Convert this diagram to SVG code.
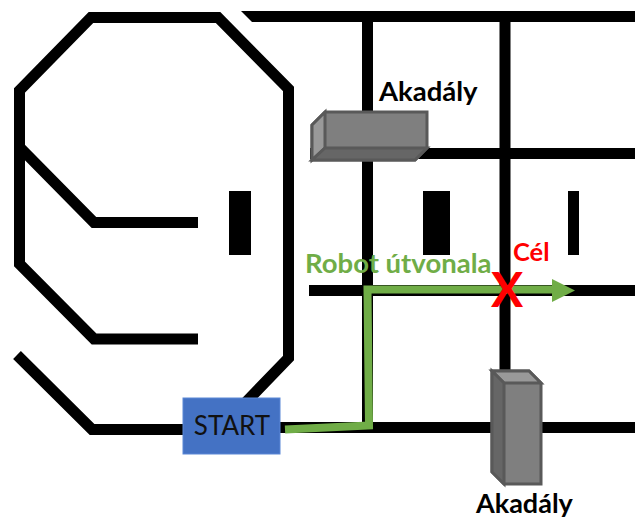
<svg xmlns="http://www.w3.org/2000/svg" width="635" height="519" viewBox="0 0 635 519">
<style>
.t{fill:none;stroke:#000;stroke-width:11}
.b{fill:#000}
.o{stroke:#595959;stroke-width:3;stroke-linejoin:miter}
.l{font-family:Lato,"Liberation Sans",Arial,sans-serif;font-weight:700}
</style>
<rect width="635" height="519" fill="#fff"/>
<g id="track">
<path class="t" d="M19.500 212V90.500L91 17.500H218L288.500 89V358L246 402"/>
<path class="t" d="M19.500 147L94 222.500H198"/>
<path class="t" d="M19.500 212V264L94 339H198"/>
<path class="t" d="M17 355L92 429.500H185"/>
<path class="b" d="M241 11H635V22H252Z"/>
<path class="t" d="M367.500 22V428"/>
<path class="t" d="M505 22V375"/>
<path class="t" d="M310 153.500H635"/>
<path class="t" d="M309 290.500H635"/>
<path class="t" d="M280 427.500H635"/>
<rect class="b" x="229" y="191" width="22" height="64"/>
<rect class="b" x="423" y="191" width="27" height="64"/>
<rect class="b" x="568" y="191" width="11" height="64"/>
</g>
<g id="connectors">
<path d="M285 429.500L369 425.500L367.500 289.500H552" fill="none" stroke="#70ad47" stroke-width="8"/>
<path d="M552 279L575 290.500L552 302Z" fill="#70ad47"/>
</g>
<g id="obstacle-top">
<path class="o" d="M312 125L325 112H427V148L415 160H312Z" fill="#7f7f7f"/>
<path class="o" d="M312 125L325 112V148L312 160Z" fill="#999"/>
<path class="o" d="M325 148H427L415 160H312Z" fill="#666"/>
<text class="l" x="379" y="101" font-size="27.500">Akadály</text>
</g>
<g id="obstacle-bottom">
<path class="o" d="M492 371H529L541 383V484H504L492 472Z" fill="#7f7f7f"/>
<path class="o" d="M492 371H529L541 383H504Z" fill="#999"/>
<path class="o" d="M492 371L504 383V484L492 472Z" fill="#666"/>
<text class="l" x="476" y="513" font-size="27">Akadály</text>
</g>
<g id="start">
<rect x="183" y="398" width="97" height="56" fill="#4472c4" stroke="#5b87d6" stroke-width="1"/>
<text x="232" y="435" font-size="26" text-anchor="middle" fill="#111" font-family="Lato,'Liberation Sans',Arial,sans-serif">START</text>
</g>
<g id="labels">
<text class="l" x="305" y="273" font-size="27.500" fill="#70ad47">Robot útvonala</text>
<text class="l" x="513" y="261" font-size="25.500" fill="#f00">Cél</text>
<text class="l" x="491" y="307" font-size="48" fill="#f00">X</text>
</g>
</svg>
